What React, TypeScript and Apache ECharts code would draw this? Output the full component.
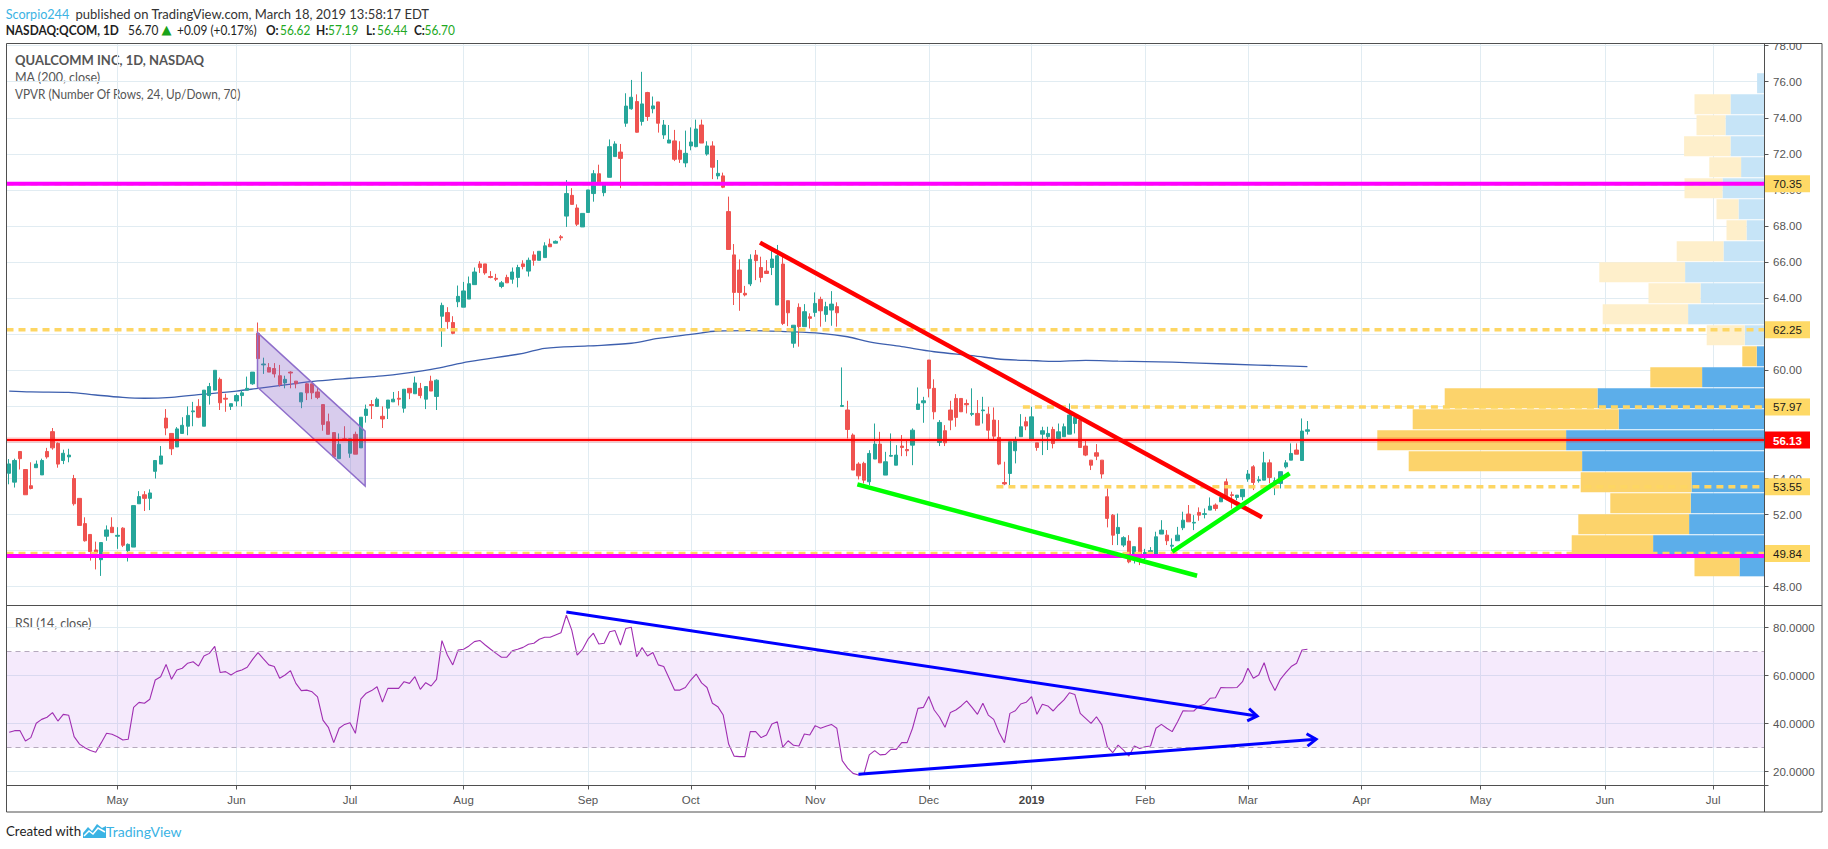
import React, { useEffect, useRef } from "react";
import * as echarts from "echarts";

// ---------------- categories (trading days) ----------------
const HOLIDAYS = ["2018-05-28", "2018-07-04", "2018-09-03", "2018-11-22", "2018-12-05", "2018-12-25", "2019-01-01", "2019-01-21", "2019-02-18"];
const FIRST_DAY = "2018-04-03";
const LAST_DAY = "2019-07-12";
const MONTHS = ["Jan", "Feb", "Mar", "Apr", "May", "Jun", "Jul", "Aug", "Sep", "Oct", "Nov", "Dec"];

function buildTradingDays(first: string, last: string, holidays: string[]): string[] {
  const out: string[] = [];
  const a = first.split("-").map(Number);
  const b = last.split("-").map(Number);
  let t = Date.UTC(a[0], a[1] - 1, a[2]);
  const end = Date.UTC(b[0], b[1] - 1, b[2]);
  while (t <= end) {
    const d = new Date(t);
    const wd = d.getUTCDay();
    const s = d.toISOString().slice(0, 10);
    if (wd !== 0 && wd !== 6 && holidays.indexOf(s) < 0) out.push(s);
    t += 86400000;
  }
  return out;
}
const dates = buildTradingDays(FIRST_DAY, LAST_DAY, HOLIDAYS);

// ---------------- price data (QCOM daily) ----------------
const open = [
  54.29, 53.8, 55.5, 54.5, 53.6, 54.6, 54.2, 55.5, 56.6, 55.95,
  55.0, 55.2, 54.0, 52.9, 51.5, 50.9, 50.04, 49.5, 50.8, 51.3,
  50.8, 51.25, 50.0, 50.2, 52.6, 53.1, 52.9, 54.4, 54.8, 57.35,
  56.5, 55.75, 56.5, 56.9, 57.7, 58.0, 56.9, 58.6, 58.9, 59.5,
  58.45, 58.0, 58.3, 58.6, 58.9, 59.25, 62.05, 60.3, 60.15, 60.1,
  59.7, 59.3, 59.9, 59.4, 58.25, 59.25, 59.25, 58.8, 58.1, 57.15,
  56.55, 55.1, 56.2, 55.4, 56.45, 55.7, 57.5, 58.1, 58.0, 57.45,
  57.9, 58.25, 58.45, 57.9, 59.0, 58.7, 59.0, 58.4, 59.4, 58.55,
  63.0, 63.2, 62.65, 63.8, 63.5, 63.95, 64.75, 65.9, 65.9, 65.2,
  65.1, 64.65, 65.15, 65.05, 65.15, 65.9, 65.5, 66.4, 66.1, 66.25,
  67.0, 67.05, 67.4, 68.55, 69.7, 69.0, 67.95, 68.75, 69.8, 70.9,
  69.85, 70.7, 71.85, 72.1, 73.7, 74.5, 74.9, 73.8, 75.4, 74.5,
  74.88, 73.05, 72.6, 72.72, 72.2, 71.5, 72.44, 72.4, 73.6, 71.99,
  72.44, 70.78, 70.78, 68.8, 66.4, 65.56, 64.27, 64.79, 66.39, 65.7,
  65.5, 65.7, 63.62, 65.89, 63.86, 61.5, 63.49, 62.42, 62.97, 63.21,
  63.93, 63.1, 63.34, 63.53, 58.0, 57.8, 56.41, 54.8, 54.84, 53.82,
  55.08, 55.91, 54.19, 55.24, 54.74, 55.8, 55.61, 55.85, 57.83, 58.2,
  60.57, 59.0, 56.0, 56.65, 57.8, 58.44, 58.44, 58.16, 57.56, 57.61,
  57.76, 57.57, 57.24, 56.28, 53.78, 54.28, 55.54, 56.32, 57.15, 56.17,
  55.98, 56.46, 56.32, 56.72, 56.22, 56.32, 56.46, 57.05, 57.24, 55.8,
  55.02, 55.43, 55.02, 52.99, 51.97, 50.95, 50.31, 50.53, 49.75, 51.27,
  49.6, 49.85, 49.75, 50.92, 50.86, 50.25, 50.55, 51.27, 52.03, 51.53,
  52.12, 52.01, 52.25, 52.53, 52.71, 53.82, 53.1, 52.95, 52.99, 53.97,
  54.65, 53.88, 53.91, 54.87, 53.83, 53.73, 54.65, 55.02, 55.58, 55.0,
  56.62,
];
const high = [
  55.08, 55.1, 55.5, 54.5, 54.9, 55.0, 55.1, 55.7, 56.8, 56.0,
  55.6, 55.65, 54.2, 52.9, 51.85, 50.9, 50.5, 50.45, 51.4, 51.85,
  51.3, 51.3, 50.4, 52.5, 53.3, 53.3, 53.4, 55.0, 55.8, 57.85,
  56.5, 56.85, 57.4, 58.0, 58.25, 58.4, 58.9, 59.3, 60.0, 59.6,
  58.7, 58.15, 58.7, 58.9, 59.65, 59.9, 62.65, 60.7, 60.4, 60.4,
  60.3, 59.7, 59.95, 59.4, 58.75, 59.3, 59.25, 59.05, 58.1, 57.6,
  56.55, 56.5, 56.9, 56.2, 56.6, 57.4, 58.1, 58.35, 58.5, 58.0,
  58.35, 58.8, 58.85, 58.95, 59.0, 59.65, 59.3, 59.1, 59.7, 59.5,
  63.75, 63.5, 63.0, 64.7, 64.9, 65.2, 65.7, 66.05, 65.9, 65.5,
  65.35, 64.95, 65.3, 65.7, 65.85, 66.1, 66.25, 66.6, 66.6, 67.1,
  67.3, 67.2, 67.5, 70.55, 70.1, 69.2, 68.7, 70.0, 71.1, 71.4,
  70.4, 72.8, 72.7, 72.55, 75.36, 76.1, 75.3, 76.55, 75.44, 75.18,
  74.88, 73.88, 73.6, 73.33, 72.7, 73.29, 73.47, 73.9, 73.9, 72.7,
  72.7, 71.66, 70.96, 69.63, 67.0, 66.15, 64.68, 66.43, 66.67, 66.3,
  66.11, 66.67, 66.95, 66.3, 63.86, 62.5, 63.71, 63.67, 63.16, 64.32,
  64.08, 63.8, 64.39, 63.77, 60.16, 58.31, 56.5, 54.9, 54.93, 55.57,
  57.05, 56.59, 55.48, 56.5, 55.85, 56.41, 56.13, 56.78, 59.05, 58.53,
  60.57, 59.5, 57.24, 56.96, 58.31, 58.68, 58.44, 58.38, 59.0, 58.35,
  58.53, 57.98, 57.94, 57.24, 54.93, 56.04, 56.32, 57.57, 57.42, 57.98,
  55.98, 56.87, 56.87, 56.87, 57.05, 57.05, 58.16, 57.57, 57.33, 56.09,
  55.02, 55.91, 55.02, 53.45, 52.03, 52.06, 50.8, 50.86, 50.22, 51.32,
  50.1, 50.2, 51.05, 51.69, 51.14, 50.68, 51.32, 52.16, 52.53, 51.97,
  52.4, 52.34, 52.95, 52.62, 53.03, 54.0, 53.27, 53.08, 53.4, 54.47,
  54.74, 54.13, 55.48, 55.06, 54.06, 54.38, 55.02, 55.95, 55.95, 57.33,
  57.19,
];
const low = [
  53.68, 53.5, 54.5, 53.1, 53.4, 54.6, 54.2, 55.1, 55.6, 54.6,
  54.8, 54.9, 52.5, 51.4, 50.5, 49.45, 48.96, 48.6, 50.55, 51.0,
  50.1, 50.2, 49.4, 50.2, 52.6, 52.2, 52.25, 54.0, 54.8, 56.4,
  55.3, 55.75, 56.5, 56.4, 56.9, 57.35, 56.9, 58.1, 58.9, 57.8,
  57.7, 57.8, 58.0, 58.0, 58.9, 59.2, 60.25, 59.8, 59.9, 59.6,
  59.1, 59.0, 59.0, 59.0, 57.9, 58.35, 58.4, 58.4, 56.65, 56.45,
  55.2, 55.1, 56.1, 55.15, 55.35, 55.7, 57.1, 57.3, 58.0, 56.8,
  57.3, 58.25, 58.05, 57.65, 58.4, 58.7, 58.45, 57.85, 58.85, 57.8,
  61.3, 62.3, 62.0, 63.5, 63.5, 63.95, 64.75, 65.4, 65.3, 65.1,
  64.95, 64.55, 64.85, 64.8, 64.6, 65.6, 65.2, 65.8, 66.1, 66.25,
  66.85, 67.05, 67.2, 67.95, 69.2, 68.0, 67.95, 68.75, 69.35, 70.45,
  69.65, 70.7, 71.85, 70.1, 73.5, 74.45, 73.18, 73.57, 73.83, 74.25,
  73.18, 72.83, 72.6, 71.6, 71.5, 71.26, 72.2, 72.37, 72.6, 71.9,
  70.6, 70.59, 70.1, 66.67, 63.62, 63.3, 64.1, 64.67, 65.0, 64.88,
  65.37, 65.28, 63.62, 62.51, 62.45, 61.25, 61.31, 62.42, 62.32, 62.97,
  62.42, 62.69, 62.47, 62.42, 57.98, 56.22, 54.47, 53.95, 53.73, 53.63,
  55.08, 54.87, 54.19, 55.21, 54.74, 55.24, 55.24, 54.74, 57.83, 57.09,
  58.5, 57.28, 55.8, 55.8, 56.68, 56.87, 57.7, 57.61, 57.46, 56.96,
  57.05, 56.17, 56.17, 54.74, 53.63, 53.63, 54.84, 56.32, 56.68, 56.17,
  55.54, 55.3, 55.58, 55.67, 56.13, 56.32, 56.46, 56.5, 55.72, 55.24,
  54.47, 55.02, 54.0, 51.29, 50.31, 50.31, 50.2, 49.3, 49.29, 49.2,
  49.3, 49.6, 49.75, 50.92, 50.31, 50.03, 50.55, 51.14, 51.6, 51.14,
  51.66, 51.79, 52.25, 52.21, 52.71, 52.8, 52.34, 52.8, 52.8, 53.82,
  53.36, 53.77, 53.91, 53.73, 53.08, 53.45, 54.56, 55.02, 55.35, 55.0,
  56.44,
];
const close = [
  54.81, 55.0, 55.1, 53.1, 53.45, 54.8, 55.0, 55.2, 55.7, 54.8,
  55.4, 55.3, 52.6, 51.4, 50.55, 49.95, 49.9, 50.45, 51.15, 51.0,
  50.85, 50.3, 50.35, 52.5, 53.0, 52.9, 53.2, 55.0, 55.25, 56.8,
  55.65, 56.75, 56.95, 57.5, 57.75, 57.4, 58.9, 59.1, 60.0, 58.2,
  58.4, 58.15, 58.6, 58.75, 59.0, 59.9, 60.65, 60.35, 59.9, 59.8,
  59.2, 59.5, 59.85, 59.25, 58.75, 58.75, 58.75, 58.5, 57.0, 56.45,
  55.2, 55.9, 56.15, 56.2, 55.35, 57.4, 57.85, 58.05, 58.4, 57.3,
  58.35, 58.4, 58.4, 58.95, 58.75, 59.3, 58.6, 59.1, 58.85, 59.45,
  63.6, 62.7, 62.05, 64.1, 64.4, 64.8, 65.45, 65.7, 65.4, 65.15,
  65.05, 64.85, 64.85, 65.45, 65.7, 65.75, 66.1, 66.1, 66.6, 66.9,
  66.85, 67.15, 67.35, 69.8, 69.2, 68.1, 68.7, 70.0, 70.9, 70.45,
  70.4, 72.4, 72.55, 71.75, 74.65, 75.14, 73.2, 74.77, 74.07, 74.66,
  73.7, 73.6, 72.77, 71.7, 71.7, 72.03, 72.66, 73.38, 72.6, 72.44,
  71.26, 70.92, 70.15, 66.7, 64.32, 64.32, 64.18, 66.15, 66.08, 65.15,
  65.37, 66.17, 66.35, 62.6, 63.19, 62.5, 62.42, 63.25, 62.88, 63.71,
  63.3, 63.53, 63.67, 63.19, 58.05, 56.72, 54.47, 54.15, 53.91, 55.39,
  55.91, 54.87, 54.93, 55.28, 55.3, 55.72, 55.54, 56.68, 58.13, 58.31,
  59.0, 57.7, 57.11, 55.98, 57.24, 57.39, 57.7, 58.09, 57.61, 56.96,
  57.8, 56.68, 56.35, 54.8, 53.7, 56.04, 56.13, 56.87, 56.91, 57.42,
  55.72, 56.65, 56.5, 55.94, 56.59, 56.87, 57.52, 57.39, 55.72, 55.3,
  54.74, 55.24, 54.25, 51.79, 50.86, 51.29, 50.72, 49.38, 50.22, 49.75,
  49.9, 50.0, 50.77, 51.14, 50.55, 50.3, 50.86, 51.69, 51.6, 51.57,
  51.97, 52.05, 52.47, 52.34, 52.95, 52.99, 53.06, 53.08, 53.4, 54.25,
  53.78, 53.93, 54.87, 54.06, 53.88, 54.38, 54.87, 55.39, 55.35, 56.63,
  56.70,
];

// RSI (14, close), read per bar
const rsi = [
  36.4, 37.1, 37.1, 32.8, 34.2, 40.2, 41.8, 42.7, 44.6, 41.1,
  43.9, 43.5, 34.6, 31.5, 30.0, 28.8, 28.1, 32.0, 36.0, 35.6,
  34.6, 33.2, 33.5, 46.8, 48.9, 48.5, 50.2, 58.2, 59.6, 64.7,
  58.5, 62.4, 63.1, 65.2, 65.8, 64.0, 68.2, 69.3, 72.2, 61.3,
  61.7, 60.3, 61.7, 62.4, 63.5, 66.8, 69.6, 67.0, 64.5, 63.8,
  58.9, 60.3, 62.1, 56.8, 53.8, 54.0, 53.3, 51.2, 41.5, 38.5,
  32.1, 38.1, 39.7, 40.4, 36.0, 50.2, 52.7, 53.8, 55.4, 49.0,
  54.7, 54.7, 54.7, 57.5, 56.8, 59.6, 54.3, 57.1, 55.7, 58.5,
  74.6, 68.6, 64.5, 70.7, 71.0, 72.4, 74.2, 74.7, 72.8, 71.0,
  69.3, 67.7, 67.7, 70.4, 71.0, 71.8, 73.1, 73.5, 75.2, 76.0,
  76.0, 77.0, 77.9, 85.2, 79.0, 68.6, 71.0, 75.2, 77.7, 73.2,
  73.5, 78.3, 78.8, 72.8, 79.7, 80.2, 67.9, 71.7, 68.2, 69.7,
  64.5, 63.8, 58.9, 54.0, 54.0, 55.1, 58.2, 60.7, 57.0, 55.1,
  48.5, 47.1, 43.6, 31.5, 26.5, 26.3, 26.3, 36.7, 36.7, 34.2,
  35.3, 39.9, 40.8, 30.2, 32.9, 31.0, 30.7, 35.7, 35.3, 39.2,
  38.1, 38.9, 39.7, 38.1, 24.6, 21.5, 19.3, 18.6, 19.0, 27.0,
  28.8, 27.0, 27.2, 29.3, 29.3, 32.1, 32.1, 38.1, 46.4, 46.8,
  51.3, 45.7, 42.7, 38.5, 44.7, 45.7, 47.4, 49.5, 46.8, 43.9,
  48.5, 43.6, 41.8, 36.3, 32.1, 44.3, 45.4, 48.2, 48.9, 51.3,
  43.9, 48.1, 47.4, 45.3, 47.8, 49.9, 52.9, 52.2, 44.3, 42.2,
  40.1, 42.9, 39.5, 30.4, 27.9, 31.1, 29.0, 26.5, 30.7, 29.7,
  30.4, 30.7, 38.1, 39.7, 38.1, 36.7, 40.8, 45.4, 45.3, 45.3,
  47.4, 48.1, 50.6, 50.8, 55.1, 55.0, 55.0, 55.1, 57.5, 63.1,
  58.9, 60.3, 65.4, 58.2, 53.8, 58.5, 61.3, 63.8, 65.2, 70.7,
  71.0,
];

// MA (200, close) read at sample bars
const maIndex = [0, 4, 11, 16, 21, 25, 30, 35, 42, 46, 51, 57, 63, 69, 73, 79, 85, 95, 99, 107, 115, 120, 126, 131, 137, 144, 150, 155, 159, 165, 171, 178, 184, 190, 193, 199, 205, 215, 225, 240];
const maValue = [58.85, 58.8, 58.78, 58.63, 58.5, 58.45, 58.5, 58.65, 58.85, 59.0, 59.19, 59.41, 59.56, 59.69, 59.83, 60.11, 60.48, 60.94, 61.22, 61.35, 61.5, 61.77, 61.99, 62.18, 62.2, 62.14, 62.05, 61.86, 61.58, 61.31, 61.03, 60.81, 60.6, 60.53, 60.49, 60.55, 60.51, 60.45, 60.35, 60.2];

// VPVR (24 rows, up/down, value area 70%)
const vpPriceLow = 48.55;
const vpPriceHigh = 76.5;
const vpRowCount = 24;
const vpUp = [12.5, 55.7, 37.7, 36.9, 36.5, 91.2, 99.2, 72.9, 83.5, 31.2, 3.9, 9.9, 38.2, 32.0, 39.7, 20.5, 9.0, 13.0, 21.0, 11.7, 17.0, 19.5, 17.0, 3.7];
const vpDown = [22.5, 40.7, 55.4, 40.2, 55.4, 86.7, 94.4, 103.0, 76.4, 25.9, 7.2, 19.0, 42.7, 26.0, 42.9, 23.4, 10.0, 11.0, 19.0, 15.9, 23.2, 14.5, 18.0, 0];
const vpValueAreaRows = [0, 10];

// drawings (bar index, price)
const yellowLevels = [70.35, 62.25, 57.97, 53.55, 49.84];
const yellowFrom: (number | null)[] = [null, null, 187.4, 182.5, null];
const magentaLevels = [70.35, 49.7];
const redLevel = 56.13;
const redTrend = [[138.8, 67.08], [231.6, 51.85]];
const greenTrend1 = [[156.8, 53.68], [219.6, 48.61]];
const greenTrend2 = [[215.0, 49.94], [236.7, 54.29]];
const channel = [[45.9, 62.09], [65.8, 56.63], [65.8, 53.58], [45.9, 59.06]];
const rsiTrend1 = [[103.0, 86.5], [230.7, 43.2]];
const rsiTrend2 = [[157.0, 18.9], [241.6, 33.5]];
const rsiBand = [30, 70];

// header texts
const headerUser = "Scorpio244";
const headerPublished = "published on TradingView.com, March 18, 2019 13:58:17 EDT";
const quoteSymbol = "NASDAQ:QCOM, 1D";
const quoteLast = "56.70";
const quoteChange = "+0.09 (+0.17%)";
const quoteOHLCLabels = ["O:", "H:", "L:", "C:"];
const quoteOHLCValues = ["56.62", "57.19", "56.44", "56.70"];

// ---------------- layout / style ----------------
const LEFT = 6.5;
const PLOT_W = 1758;
const MAIN_TOP = 43.5;
const MAIN_H = 562;
const RSI_TOP = 605.5;
const RSI_H = 180;
const GRID_COLOR = "#e1ecf2";
const AXIS_TEXT = "#555";
const AXIS_FONT = '"Liberation Sans", Arial, sans-serif';
const UI_FONT = 'Lato, "Open Sans", sans-serif';

const monthStarts = new Set<number>();
for (let i = 1; i < dates.length; i++) {
  if (dates[i].slice(0, 7) !== dates[i - 1].slice(0, 7)) monthStarts.add(i);
}
const isMonthStart = (i: number) => monthStarts.has(i);

function makePt(api: any) {
  return (i: number, p: number) => {
    const i0 = Math.floor(i);
    const a = api.coord([i0, p]);
    const b = api.coord([i0 + 1, p]);
    return [a[0] + (i - i0) * (b[0] - a[0]), a[1]];
  };
}

function arrowHead(p1: number[], p2: number[], len: number, ang: number) {
  const dx = p2[0] - p1[0];
  const dy = p2[1] - p1[1];
  const L = Math.hypot(dx, dy);
  const ux = dx / L;
  const uy = dy / L;
  const rot = (a: number) => [ux * Math.cos(a) - uy * Math.sin(a), ux * Math.sin(a) + uy * Math.cos(a)];
  const r1 = rot(Math.PI - ang);
  const r2 = rot(Math.PI + ang);
  return [[p2[0] + r1[0] * len, p2[1] + r1[1] * len], [p2[0], p2[1]], [p2[0] + r2[0] * len, p2[1] + r2[1] * len]];
}

function renderMainDrawings(params: any, api: any) {
  const cs = params.coordSys;
  const left = cs.x;
  const right = cs.x + cs.width;
  const pt = makePt(api);
  const yOf = (p: number) => api.coord([0, p])[1];
  const ch: any[] = [];
  ch.push({
    type: "polygon",
    shape: { points: channel.map(([i, p]) => pt(i, p)) },
    style: { fill: "rgba(126,87,194,0.30)", stroke: "#8f6fcb", lineWidth: 1.5 },
  });
  yellowLevels.forEach((p, k) => {
    const y = yOf(p);
    const f = yellowFrom[k];
    const x1 = f == null ? left : pt(f, p)[0];
    ch.push({ type: "line", shape: { x1, y1: y, x2: right, y2: y }, style: { stroke: "#fdd663", lineWidth: 3.5, lineDash: [7, 5] } });
  });
  magentaLevels.forEach((p) => {
    const y = yOf(p);
    ch.push({ type: "line", shape: { x1: left, y1: y, x2: right, y2: y }, style: { stroke: "#ff00ff", lineWidth: 4 } });
  });
  {
    const y = yOf(redLevel);
    ch.push({ type: "line", shape: { x1: left, y1: y, x2: right, y2: y }, style: { stroke: "rgba(255,0,0,0.25)", lineWidth: 5 } });
    ch.push({ type: "line", shape: { x1: left, y1: y, x2: right, y2: y }, style: { stroke: "#ff0000", lineWidth: 2 } });
  }
  const seg = (s: number[][], color: string, w: number) => {
    const a = pt(s[0][0], s[0][1]);
    const b = pt(s[1][0], s[1][1]);
    ch.push({ type: "line", shape: { x1: a[0], y1: a[1], x2: b[0], y2: b[1] }, style: { stroke: color, lineWidth: w, lineCap: "butt" } });
  };
  seg(redTrend, "#ff0000", 4.5);
  seg(greenTrend1, "#00ff00", 4.5);
  seg(greenTrend2, "#00ff00", 4.5);
  const label = (p: number, bg: string, fg: string, bold: boolean) => {
    const y = yOf(p);
    ch.push({ type: "rect", shape: { x: right, y: y - 8.5, width: 45.5, height: 17 }, style: { fill: bg } });
    ch.push({
      type: "text",
      x: right + 8.5,
      y: y + 0.5,
      style: { text: p.toFixed(2), fill: fg, font: (bold ? "bold " : "") + "11.5px " + AXIS_FONT, align: "left", verticalAlign: "middle" },
    });
  };
  yellowLevels.forEach((p) => label(p, "#fed966", "#1a1a1a", false));
  label(redLevel, "#ff0000", "#ffffff", true);
  return { type: "group", children: ch };
}

function renderRsiDrawings(params: any, api: any) {
  const pt = makePt(api);
  const ch: any[] = [];
  [rsiTrend1, rsiTrend2].forEach((s) => {
    const a = pt(s[0][0], s[0][1]);
    const b = pt(s[1][0], s[1][1]);
    ch.push({ type: "line", shape: { x1: a[0], y1: a[1], x2: b[0], y2: b[1] }, style: { stroke: "#0000ff", lineWidth: 3 } });
    ch.push({ type: "polyline", shape: { points: arrowHead(a, b, 11, 0.6) }, style: { stroke: "#0000ff", lineWidth: 3, fill: "none" } });
  });
  return { type: "group", children: ch };
}

function renderVolumeProfile(params: any, api: any) {
  const up = api.value(0);
  const down = api.value(2);
  const k = api.value(3);
  const step = (vpPriceHigh - vpPriceLow) / vpRowCount;
  const pLow = vpPriceLow + k * step;
  const pHigh = pLow + step;
  const a = api.coord([0, pHigh]);
  const b = api.coord([up, pLow]);
  const c = api.coord([up + down, pLow]);
  const inVA = k >= vpValueAreaRows[0] && k <= vpValueAreaRows[1];
  const top = a[1] + 0.5;
  const h = b[1] - a[1] - 1;
  return {
    type: "group",
    children: [
      { type: "rect", shape: { x: b[0], y: top, width: a[0] - b[0], height: h }, style: { fill: inVA ? "#5caeea" : "#c6e4f7" } },
      { type: "rect", shape: { x: c[0], y: top, width: b[0] - c[0], height: h }, style: { fill: inVA ? "#fcd36b" : "#feefcb" } },
    ],
  };
}

// a text placed at (x, y) and squeezed horizontally by sx
function txt(x: number, y: number, text: string, fill: string, font: string, sx: number): any {
  return {
    type: "group",
    x,
    y,
    scaleX: sx,
    silent: true,
    z: 50,
    children: [{ type: "text", x: 0, y: 0, style: { text, fill, font, verticalAlign: "middle", align: "left" } }],
  };
}

function buildOption(): any {
  const catAxisBase = {
    type: "category",
    data: dates,
    boundaryGap: true,
    axisLine: { show: false },
    splitLine: { show: true, interval: isMonthStart, alignWithLabel: true, lineStyle: { color: GRID_COLOR, width: 1 } },
  };
  const candleData = open.map((o, i) => [o, close[i], low[i], high[i]]);
  const maData = maIndex.map((i, k) => [i, maValue[k]]);
  const vpData = vpUp.map((u, k) => [u, vpPriceLow + (k + 0.5) * ((vpPriceHigh - vpPriceLow) / vpRowCount), vpDown[k], k]);

  const frame = { fill: "none", stroke: "#4f4f4f", lineWidth: 1 };
  const hf = "14px " + UI_FONT;
  const hb = "bold 14px " + UI_FONT;
  const SX = 0.85;
  const green = "#22a822";
  const ohlcX = [[266, 280], [316, 328], [366, 377], [414, 424.5]];

  const header: any[] = [
    txt(5.7, 13.5, headerUser, "#3bb3e4", hf, 0.9),
    txt(75.5, 13.5, headerPublished, "#333333", hf, 0.93),
    txt(5.7, 29.5, quoteSymbol, "#1e1e1e", hb, SX),
    txt(128, 29.5, quoteLast, "#1e1e1e", hf, SX),
    txt(161.5, 29.5, "▲", "#1aa31a", "13px DejaVu Sans, sans-serif", 1),
    txt(177, 29.5, quoteChange, "#1e1e1e", hf, SX),
  ];
  quoteOHLCLabels.forEach((l, k) => {
    header.push(txt(ohlcX[k][0], 29.5, l, "#1e1e1e", hb, SX));
    header.push(txt(ohlcX[k][1], 29.5, quoteOHLCValues[k], green, hf, SX));
  });

  return {
    animation: false,
    backgroundColor: "#ffffff",
    grid: [
      { left: LEFT, top: MAIN_TOP, width: PLOT_W, height: MAIN_H, outerBoundsMode: "none" },
      { left: LEFT, top: RSI_TOP, width: PLOT_W, height: RSI_H, outerBoundsMode: "none" },
    ],
    xAxis: [
      { ...catAxisBase, gridIndex: 0, axisTick: { show: false }, axisLabel: { show: false } },
      { type: "value", gridIndex: 0, inverse: true, min: 0, max: PLOT_W / 2, show: false },
      {
        ...catAxisBase,
        gridIndex: 1,
        axisTick: { show: true, interval: isMonthStart, alignWithLabel: true, length: 4, lineStyle: { color: "#555" } },
        axisLabel: {
          show: true,
          interval: isMonthStart,
          margin: 8,
          color: AXIS_TEXT,
          fontSize: 11.5,
          fontFamily: AXIS_FONT,
          formatter: (v: string) => {
            const m = +v.slice(5, 7);
            return m === 1 ? "{y|" + v.slice(0, 4) + "}" : MONTHS[m - 1];
          },
          rich: { y: { fontWeight: "bold", color: "#444", fontSize: 11.5, fontFamily: AXIS_FONT } },
        },
      },
    ],
    yAxis: [
      {
        type: "value",
        gridIndex: 0,
        position: "right",
        min: 46.96,
        max: 78.12,
        splitNumber: 15,
        minInterval: 2,
        maxInterval: 2,
        axisLine: { show: false },
        axisTick: { show: true, length: 4, lineStyle: { color: "#555" } },
        axisLabel: {
          margin: 8.5,
          color: AXIS_TEXT,
          fontSize: 11.5,
          fontFamily: AXIS_FONT,
          formatter: (v: number) => (Math.abs(v / 2 - Math.round(v / 2)) < 1e-6 ? v.toFixed(2) : ""),
        },
        splitLine: { show: true, lineStyle: { color: GRID_COLOR } },
      },
      {
        type: "value",
        gridIndex: 1,
        position: "right",
        min: 14.25,
        max: 89.25,
        splitNumber: 4,
        minInterval: 20,
        maxInterval: 20,
        axisLine: { show: false },
        axisTick: { show: true, length: 4, lineStyle: { color: "#555" } },
        axisLabel: {
          margin: 8.5,
          color: AXIS_TEXT,
          fontSize: 11.5,
          fontFamily: AXIS_FONT,
          formatter: (v: number) => (Math.abs(v / 20 - Math.round(v / 20)) < 1e-6 ? v.toFixed(4) : ""),
        },
        splitLine: { show: true, lineStyle: { color: GRID_COLOR } },
      },
    ],
    series: [
      {
        type: "line",
        name: "MA",
        xAxisIndex: 0,
        yAxisIndex: 0,
        data: maData,
        showSymbol: false,
        smooth: 0.35,
        lineStyle: { color: "#3d5fae", width: 1.3 },
        z: 2,
      },
      {
        type: "candlestick",
        name: "QCOM",
        xAxisIndex: 0,
        yAxisIndex: 0,
        data: candleData,
        barWidth: 3.8,
        itemStyle: { color: "#26a69a", color0: "#ef5350", borderColor: "#26a69a", borderColor0: "#ef5350", borderWidth: 1 },
        z: 3,
      },
      {
        type: "custom",
        name: "VPVR",
        coordinateSystem: "cartesian2d",
        xAxisIndex: 1,
        yAxisIndex: 0,
        data: vpData,
        encode: { x: 0, y: 1 },
        renderItem: renderVolumeProfile,
        silent: true,
        z: 4,
      },
      {
        type: "custom",
        name: "drawings",
        coordinateSystem: "cartesian2d",
        xAxisIndex: 0,
        yAxisIndex: 0,
        data: [[0, 60]],
        encode: { x: 0, y: 1 },
        renderItem: renderMainDrawings,
        silent: true,
        z: 5,
      },
      {
        type: "line",
        name: "RSI",
        xAxisIndex: 2,
        yAxisIndex: 1,
        data: rsi,
        showSymbol: false,
        lineStyle: { color: "#a02fb2", width: 1.1 },
        z: 3,
        markArea: {
          silent: true,
          itemStyle: { color: "rgba(153,51,230,0.10)" },
          data: [[{ yAxis: rsiBand[0] }, { yAxis: rsiBand[1] }]],
        },
        markLine: {
          silent: true,
          symbol: "none",
          label: { show: false },
          lineStyle: { color: "#b5a9bd", type: [5, 4], width: 1 },
          data: [{ yAxis: rsiBand[0] }, { yAxis: rsiBand[1] }],
        },
      },
      {
        type: "custom",
        name: "rsiDrawings",
        coordinateSystem: "cartesian2d",
        xAxisIndex: 2,
        yAxisIndex: 1,
        data: [[0, 50]],
        encode: { x: 0, y: 1 },
        renderItem: renderRsiDrawings,
        silent: true,
        z: 5,
      },
    ],
    graphic: [
      ...header,
      // pane legends
      txt(15, 60, "QUALCOMM INC, 1D, NASDAQ", "#555", "bold 13px " + UI_FONT, 1),
      txt(15, 77, "MA (200, close)", "#555", "12.5px " + UI_FONT, 1),
      txt(15, 94, "VPVR (Number Of Rows, 24, Up/Down, 70)", "#555", "12.5px " + UI_FONT, 0.945),
      txt(15, 623, "RSI (14, close)", "#555", "12.5px " + UI_FONT, 1),
      // cover for clipped top label
      { type: "rect", z: 90, silent: true, shape: { x: 1765, y: 30, width: 60, height: 13 }, style: { fill: "#ffffff" } },
      // frame
      { type: "rect", z: 100, silent: true, shape: { x: 6.5, y: 43.5, width: 1815.5, height: 768.5 }, style: frame },
      { type: "line", z: 100, silent: true, shape: { x1: 1764.5, y1: 43.5, x2: 1764.5, y2: 812 }, style: frame },
      { type: "line", z: 100, silent: true, shape: { x1: 6.5, y1: 605.5, x2: 1822, y2: 605.5 }, style: frame },
      { type: "line", z: 100, silent: true, shape: { x1: 6.5, y1: 785.5, x2: 1764.5, y2: 785.5 }, style: frame },
      // footer
      txt(6, 831, "Created with", "#1e1e1e", "14px " + UI_FONT, 0.95),
      {
        type: "group",
        x: 83,
        y: 823,
        silent: true,
        children: [
          { type: "polygon", shape: { points: [[0, 15], [0, 10], [5, 4], [9, 8], [14, 1], [19, 5], [23, 3], [23, 15]] }, style: { fill: "#3bb3e4" } },
          { type: "polyline", shape: { points: [[1, 13], [6, 8], [10, 11], [15, 5], [22, 9]] }, style: { stroke: "#ffffff", lineWidth: 1.5, fill: "none" } },
        ],
      },
      txt(106, 831, "TradingView", "#3bb3e4", "14px " + UI_FONT, 1),
    ],
  };
}

export default function App() {
  const ref = useRef<HTMLDivElement>(null);
  useEffect(() => {
    if (!ref.current) return;
    const chart = echarts.init(ref.current, null, { renderer: "svg" });
    chart.setOption(buildOption());
    return () => chart.dispose();
  }, []);
  return <div ref={ref} style={{ position: "fixed", left: 0, top: 0, width: 1828, height: 849, background: "#ffffff" }} />;
}
